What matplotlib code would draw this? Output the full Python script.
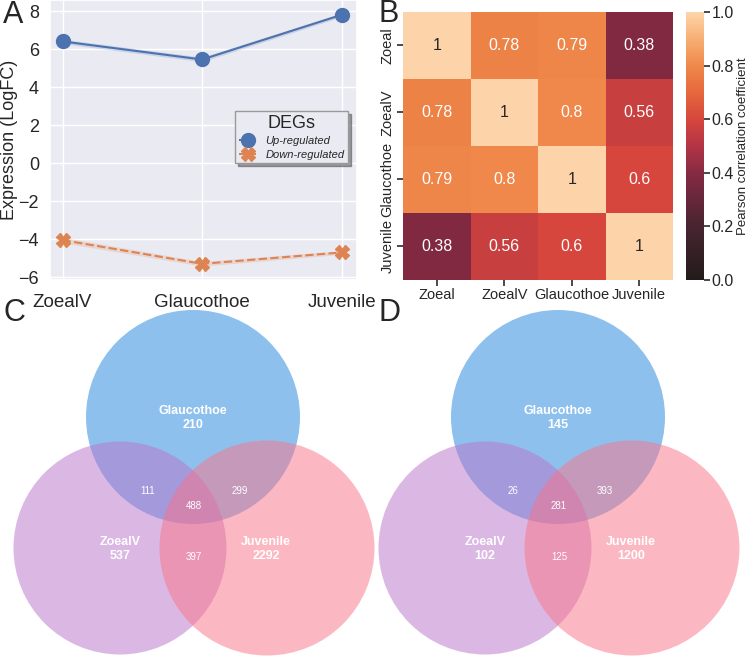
import numpy as np
import matplotlib
matplotlib.use('Agg')
import matplotlib.pyplot as plt
import seaborn as sns
from matplotlib.patches import Circle
from matplotlib.lines import Line2D
from matplotlib.colors import LinearSegmentedColormap

# --- data ---
stages = ['ZoealV', 'Glaucothoe', 'Juvenile']
up_fc = [6.4, 5.45, 7.8]
up_ci = [0.12, 0.12, 0.1]
down_fc = [-4.05, -5.3, -4.7]
down_ci = [0.15, 0.12, 0.1]

corr_labels = ['Zoeal', 'ZoealV', 'Glaucothoe', 'Juvenile']
corr = np.array([[1, 0.78, 0.79, 0.38],
                 [0.78, 1, 0.8, 0.56],
                 [0.79, 0.8, 1, 0.6],
                 [0.38, 0.56, 0.6, 1]])

venn_sets = ['Glaucothoe', 'ZoealV', 'Juvenile']
# only-set counts, then pairwise G&Z, G&J, all, Z&J
venn_c_only = [210, 537, 2292]
venn_c_pairs = [111, 299, 488, 397]
venn_d_only = [145, 102, 1200]
venn_d_pairs = [26, 393, 281, 125]

sns.set_theme(style='darkgrid')
plt.rcParams['font.family'] = ['Liberation Sans', 'DejaVu Sans']

W, H = 750, 658
fig = plt.figure(figsize=(W / 100, H / 100), dpi=100)


def px_axes(x0, y0, x1, y1):
    return fig.add_axes([x0 / W, 1 - y1 / H, (x1 - x0) / W, (y1 - y0) / H])


blue, orange = '#4C72B0', '#DD8452'
dash = (0, (4, 1.6))

# --- A: line plot ---
ax = px_axes(50, 0, 357, 280)
x = np.arange(len(stages))
ax.fill_between(x, np.array(up_fc) - up_ci, np.array(up_fc) + up_ci, color=blue, alpha=0.2, lw=0)
ax.fill_between(x, np.array(down_fc) - down_ci, np.array(down_fc) + down_ci, color=orange, alpha=0.2, lw=0)
ax.plot(x, up_fc, color=blue, marker='o', ms=10, lw=1.5)
ax.plot(x, down_fc, color=orange, marker='X', ms=10, lw=1.5, ls=dash)
ax.set_xticks(x)
ax.set_xticklabels(stages, fontsize=13.5)
ax.set_xlim(-0.09, 2.11)
ax.set_ylim(-6.15, 8.58)
ax.set_yticks(range(-6, 9, 2))
ax.tick_params(axis='y', labelsize=13, pad=2)
ax.tick_params(axis='x', pad=4)
ax.set_ylabel('Expression (LogFC)', fontsize=13, labelpad=0)
handles = [Line2D([], [], color=blue, marker='o', ms=10, lw=1.5, ls=dash),
           Line2D([], [], color=orange, marker='X', ms=10, lw=1.5, ls=dash)]
leg = ax.legend(handles, ['Up-regulated', 'Down-regulated'], title='DEGs', loc='center right',
                bbox_to_anchor=(0.99, 0.51), prop={'style': 'italic', 'size': 8},
                title_fontsize=13, shadow=True, frameon=True, edgecolor='#999999',
                fancybox=False, handlelength=1.6, borderpad=0.35, labelspacing=0.35)
fig.text(13 / W, 1 - 15 / H, 'A', fontsize=22, va='center', ha='center')

# --- B: heatmap ---
cmap = LinearSegmentedColormap.from_list('pk', [
    (0.0, '#221B1B'), (0.2, '#482430'), (0.4, '#862A43'), (0.5, '#B33446'),
    (0.6, '#D6463C'), (0.7, '#E6683D'), (0.8, '#EF884A'), (0.9, '#F7AE73'),
    (1.0, '#FDD4A9')])
axh = px_axes(403, 12, 673, 280)
cax = px_axes(686, 12, 704, 280)
sns.heatmap(corr, ax=axh, cbar_ax=cax, cmap=cmap, vmin=0, vmax=1, annot=True,
            annot_kws={'size': 11.5}, xticklabels=corr_labels, yticklabels=corr_labels)
axh.tick_params(left=True, bottom=True, length=4, labelsize=10.5, color='#333333', pad=2)
axh.set_yticklabels(corr_labels, rotation=90, va='center')
cax.tick_params(right=True, length=4, labelsize=11.5, color='#333333', pad=1.5)
cax.set_yticks(np.arange(0, 1.01, 0.2))
cax.set_ylabel('Pearson correlation coefficient', fontsize=9.5, labelpad=2)
fig.text(389 / W, 1 - 14 / H, 'B', fontsize=22, va='center', ha='center')

# --- C & D: Venn diagrams ---
axv = fig.add_axes([0, 0, 1, 358 / H])
axv.set_xlim(0, W)
axv.set_ylim(H, 300)
axv.axis('off')

circ_colors = ['#1F83DF', '#B973C9', '#FB7387']
centers = [(193, 417), (120, 548), (267, 548)]
radii = [107, 106.5, 107.5]
label_pos = [(193, 418), (120, 549), (266, 549)]
pair_pos = [(148, 491), (240, 491), (194, 506), (194, 557)]

for dx, only, pairs, letter in [(0, venn_c_only, venn_c_pairs, 'C'),
                                (365, venn_d_only, venn_d_pairs, 'D')]:
    for (cx, cy), r, col in zip(centers, radii, circ_colors):
        axv.add_patch(Circle((cx + dx, cy), r, color=col, alpha=0.5, lw=0))
    for (lx, ly), name, n in zip(label_pos, venn_sets, only):
        axv.text(lx + dx, ly, f'{name}\n{n}', color='white', fontsize=9, fontweight='bold',
                 ha='center', va='center', linespacing=1.15)
    for (px, py), n in zip(pair_pos, pairs):
        axv.text(px + dx, py, str(n), color='white', fontsize=7, ha='center', va='center')
    axv.text(14 + dx * 1.03, 313, letter, fontsize=22, ha='center', va='center')

fig.savefig('out.png', dpi=100)
